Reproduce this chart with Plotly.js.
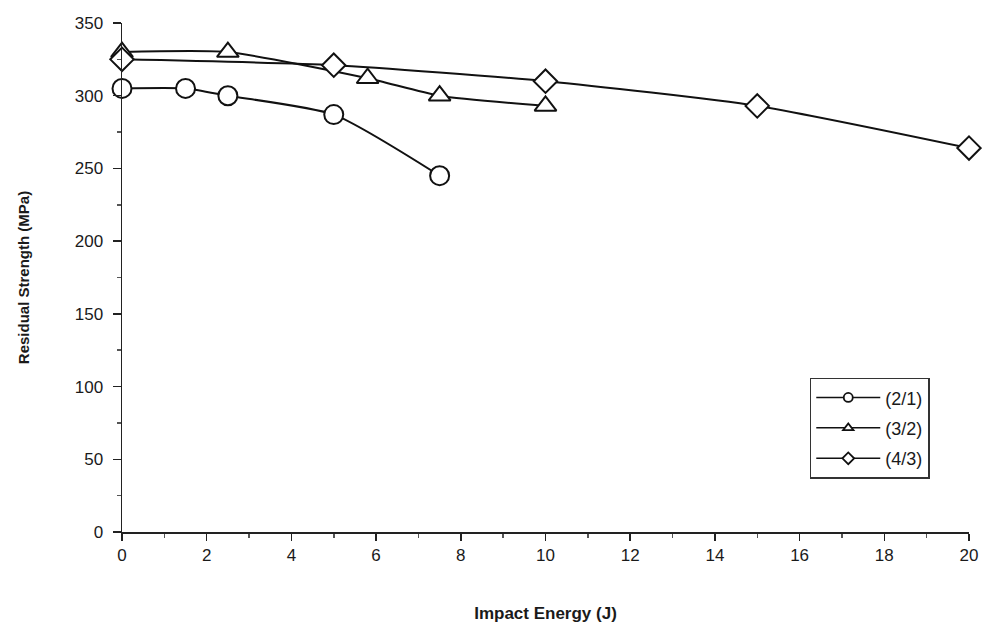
<!DOCTYPE html>
<html>
<head>
<meta charset="utf-8">
<script src="https://cdn.plot.ly/plotly-3.0.1.min.js"></script>
<style>html,body{margin:0;padding:0;background:#fff}#chart{width:982px;height:623px}</style>
</head>
<body>
<div id="chart"></div>
<script>
// Data
var seriesNames = ["(2/1)", "(3/2)", "(4/3)"];
var energy21 = [0, 1.5, 2.5, 5, 7.5];
var strength21 = [305, 305, 300, 287, 245];
var energy32 = [0, 2.5, 5.8, 7.5, 10];
var strength32 = [330, 330, 312, 300, 293];
var energy43 = [0, 5, 10, 15, 20];
var strength43 = [325, 321, 310, 293, 264];
var xTicks = [0, 2, 4, 6, 8, 10, 12, 14, 16, 18, 20];
var yTicks = [0, 50, 100, 150, 200, 250, 300, 350];

var symbols = ['circle', 'triangle-up', 'diamond'];
function mk(x, y, name, symbol, size) {
  return {
    x: x, y: y, name: name, type: 'scatter', mode: 'lines+markers', showlegend: false,
    line: {color: '#111', width: 2, shape: 'spline', smoothing: 0.6},
    marker: {symbol: symbol, size: size, color: '#fff', line: {color: '#111', width: 2}},
    cliponaxis: false
  };
}
function legendItem(name, symbol) {
  return {
    x: [null], y: [null], name: name, legendgroup: name, type: 'scatter', mode: 'lines+markers',
    line: {color: '#111', width: 1.5},
    marker: {symbol: symbol, size: 9, color: '#fff', line: {color: '#111', width: 1.8}}
  };
}
var traces = [
  mk(energy21, strength21, seriesNames[0], symbols[0], 19),
  mk(energy32, strength32, seriesNames[1], symbols[1], 19),
  mk(energy43, strength43, seriesNames[2], symbols[2], 18)
];
for (var i = 0; i < seriesNames.length; i++) traces.push(legendItem(seriesNames[i], symbols[i]));

var fam = 'Liberation Sans, Arial, sans-serif';
var layout = {
  width: 982, height: 623,
  margin: {l: 122, r: 13, t: 23, b: 91},
  paper_bgcolor: '#fff', plot_bgcolor: '#fff',
  font: {family: fam, size: 17, color: '#1a1a1a'},
  showlegend: true,
  legend: {
    x: 0.812, y: 0.303, xanchor: 'left', yanchor: 'top',
    bordercolor: '#333', borderwidth: 1.5, bgcolor: '#fff',
    font: {family: fam, size: 18, color: '#1a1a1a'},
    tracegroupgap: 4, itemwidth: 64
  },
  xaxis: {
    range: [0, 20], tickvals: xTicks, ticktext: xTicks.map(String),
    showgrid: false, zeroline: false, showline: true, linecolor: '#222', linewidth: 1.5,
    ticks: 'outside', ticklen: 7, tickcolor: '#222', tickwidth: 1.5,
    minor: {dtick: 1, ticks: 'outside', ticklen: 4, tickcolor: '#555', showgrid: false},
    tickfont: {size: 17},
    title: {text: '<b>Impact Energy (J)</b>', font: {size: 17}, standoff: 43}
  },
  yaxis: {
    range: [0, 350], tickvals: yTicks, ticktext: yTicks.map(String),
    showgrid: false, zeroline: false, showline: true, linecolor: '#222', linewidth: 1.5,
    ticks: 'outside', ticklen: 8, tickcolor: '#222', tickwidth: 1.5,
    minor: {dtick: 25, ticks: 'outside', ticklen: 4, tickcolor: '#555', showgrid: false},
    tickfont: {size: 17}, ticklabelstandoff: 6,
    title: {text: '<b>Residual Strength (MPa)</b>', font: {size: 15}, standoff: 41}
  }
};
Plotly.newPlot('chart', traces, layout, {staticPlot: true});
</script>
</body>
</html>
